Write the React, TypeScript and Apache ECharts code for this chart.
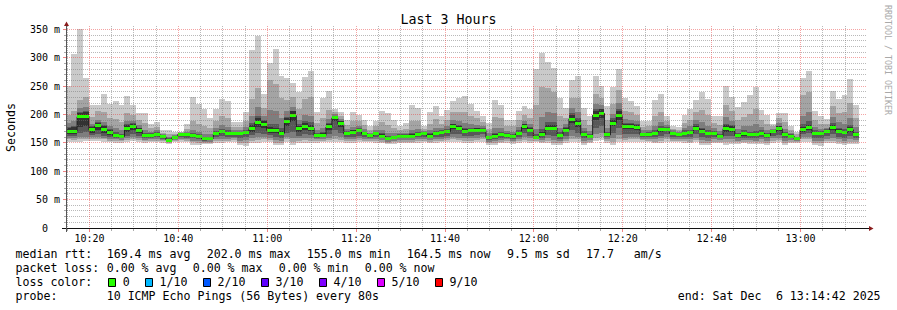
import React, { useEffect, useRef } from 'react';
import * as echarts from 'echarts';

// ---------- time frame (minutes since midnight) ----------
const START_MIN = 614.95; // left edge of the plot
const END_MIN = 794.95; // right edge of the plot (3 hours later)
const STEP_MIN = 80 / 60; // one probe round every 80 s
const STEP_OFFSET_MIN = -0.4;

// ---------- 10 sorted ping RTTs per step (ms) ----------
const rttP1 = [
  152, 151, 152, 153, 154, 154, 152, 151, 150, 150,
  151, 153, 152, 150, 151, 151, 150, 148, 151, 152,
  151, 147, 147, 148, 148, 150, 150, 151, 152, 146,
  145, 150, 150, 152, 151, 146, 146, 152, 147, 150,
  150, 150, 150, 151, 151, 152, 151, 150, 150, 152,
  151, 151, 150, 149, 148, 148, 149, 150, 149, 150,
  151, 149, 150, 151, 151, 152, 151, 150, 150, 151,
  152, 146, 147, 149, 150, 148, 150, 151, 150, 152,
  149, 150, 146, 146, 150, 152, 151, 146, 149, 153,
  155, 150, 147, 152, 151, 152, 152, 152, 151, 149,
  150, 152, 151, 151, 149, 149, 151, 146, 146, 149,
  149, 146, 148, 148, 149, 148, 148, 148, 147, 150,
  151, 147, 149, 150, 152, 152, 146, 145, 150, 150,
  148, 146, 148, 148,
];
const rttP2 = [
  156, 155, 156, 157, 157, 157, 156, 154, 153, 153,
  155, 156, 155, 153, 154, 154, 153, 150, 153, 155,
  154, 151, 150, 150, 150, 153, 154, 154, 155, 150,
  150, 154, 155, 156, 155, 150, 150, 156, 152, 154,
  155, 154, 153, 154, 155, 156, 155, 153, 153, 155,
  154, 154, 153, 152, 150, 151, 152, 152, 152, 153,
  154, 152, 153, 154, 155, 156, 155, 154, 154, 155,
  156, 149, 150, 152, 153, 151, 153, 155, 154, 154,
  152, 154, 150, 149, 153, 157, 156, 150, 152, 158,
  160, 153, 152, 157, 155, 156, 156, 155, 154, 152,
  154, 156, 154, 154, 153, 152, 155, 150, 150, 152,
  152, 151, 152, 151, 152, 151, 151, 152, 150, 154,
  155, 150, 152, 152, 156, 157, 150, 149, 153, 154,
  152, 150, 152, 151,
];
const rttP3 = [
  159, 158, 160, 161, 160, 160, 159, 157, 156, 155,
  158, 160, 158, 155, 156, 157, 155, 152, 155, 157,
  156, 154, 153, 152, 152, 156, 157, 157, 158, 154,
  155, 158, 160, 160, 159, 155, 154, 160, 158, 158,
  159, 158, 156, 157, 159, 162, 160, 156, 157, 158,
  157, 156, 156, 155, 152, 153, 155, 155, 155, 156,
  157, 155, 156, 157, 158, 160, 159, 158, 158, 159,
  160, 152, 153, 155, 156, 154, 157, 160, 158, 156,
  155, 158, 155, 153, 157, 163, 161, 154, 155, 165,
  168, 156, 158, 164, 159, 160, 160, 157, 157, 156,
  158, 160, 157, 157, 156, 156, 159, 155, 154, 156,
  155, 156, 157, 154, 155, 155, 154, 156, 154, 158,
  159, 154, 155, 153, 160, 161, 154, 153, 157, 159,
  156, 154, 157, 155,
];
const rttP4 = [
  163, 162, 168, 170, 164, 165, 163, 161, 159, 158,
  163, 165, 163, 158, 159, 160, 157, 153, 157, 160,
  159, 158, 156, 154, 155, 160, 162, 161, 161, 159,
  160, 164, 168, 166, 164, 161, 159, 168, 170, 163,
  165, 164, 159, 160, 165, 172, 168, 160, 161, 163,
  160, 159, 160, 158, 155, 156, 158, 158, 158, 160,
  161, 158, 160, 161, 162, 166, 165, 163, 163, 164,
  165, 155, 157, 159, 159, 157, 161, 167, 163, 158,
  159, 164, 163, 157, 162, 172, 168, 158, 158, 176,
  180, 160, 168, 176, 165, 166, 166, 160, 160, 160,
  163, 165, 161, 160, 160, 160, 165, 161, 159, 160,
  158, 162, 163, 158, 159, 159, 158, 160, 158, 162,
  164, 158, 158, 155, 165, 167, 159, 158, 162, 166,
  161, 159, 163, 159,
];
const rttP5 = [
  166, 166, 178, 180, 168, 172, 168, 164, 161, 160,
  170, 173, 168, 161, 161, 163, 159, 154, 158, 163,
  162, 161, 159, 156, 157, 164, 167, 165, 165, 164,
  165, 170, 178, 176, 168, 167, 164, 180, 188, 170,
  172, 171, 161, 161, 173, 188, 178, 164, 165, 169,
  164, 161, 164, 160, 157, 158, 160, 160, 160, 163,
  164, 160, 164, 166, 168, 174, 172, 168, 169, 170,
  170, 157, 160, 162, 161, 159, 164, 174, 169, 159,
  163, 172, 172, 161, 169, 185, 178, 162, 159, 190,
  194, 162, 180, 190, 174, 174, 173, 162, 163, 165,
  170, 171, 165, 163, 165, 166, 172, 167, 164, 164,
  160, 170, 170, 161, 163, 162, 162, 165, 161, 168,
  171, 162, 160, 156, 170, 173, 165, 164, 167, 173,
  167, 165, 170, 162,
];
const rttP6 = [
  176, 178, 202, 204, 178, 185, 179, 172, 166, 163,
  182, 184, 176, 166, 166, 168, 163, 157, 162, 167,
  166, 166, 163, 159, 160, 169, 173, 169, 169, 168,
  171, 182, 194, 188, 178, 176, 171, 194, 206, 180,
  185, 182, 166, 167, 183, 198, 188, 170, 172, 175,
  169, 165, 169, 165, 161, 162, 164, 164, 165, 168,
  168, 165, 169, 171, 173, 183, 179, 174, 175, 176,
  175, 162, 166, 168, 166, 164, 170, 183, 176, 162,
  170, 182, 182, 166, 176, 200, 190, 168, 164, 207,
  210, 167, 191, 206, 183, 183, 181, 167, 168, 170,
  177, 177, 169, 167, 170, 171, 180, 174, 169, 169,
  164, 181, 179, 166, 169, 167, 167, 170, 166, 173,
  179, 167, 164, 159, 178, 182, 170, 169, 173, 182,
  174, 171, 178, 167,
];
const rttP7 = [
  178, 180, 204, 206, 180, 186, 181, 174, 169, 166,
  183, 185, 177, 168, 167, 169, 164, 158, 162, 167,
  167, 168, 165, 161, 161, 171, 175, 172, 170, 169,
  173, 185, 198, 190, 184, 183, 176, 196, 207, 183,
  188, 186, 168, 169, 185, 198, 189, 171, 173, 176,
  170, 166, 170, 167, 163, 163, 165, 165, 167, 170,
  169, 167, 171, 172, 175, 184, 181, 177, 177, 177,
  176, 163, 168, 170, 167, 166, 172, 184, 178, 165,
  175, 187, 186, 169, 178, 202, 193, 171, 166, 209,
  210, 170, 193, 209, 185, 185, 183, 168, 169, 173,
  180, 178, 170, 168, 172, 173, 183, 177, 172, 171,
  166, 184, 181, 168, 172, 170, 171, 172, 168, 173,
  180, 169, 165, 160, 183, 188, 172, 171, 174, 185,
  177, 175, 182, 170,
];
const rttP8 = [
  185, 188, 212, 214, 184, 191, 187, 180, 176, 172,
  189, 189, 182, 173, 170, 172, 165, 160, 164, 167,
  170, 173, 170, 166, 165, 176, 182, 178, 173, 172,
  178, 197, 214, 198, 208, 206, 193, 206, 214, 190,
  200, 198, 173, 176, 192, 201, 192, 174, 178, 180,
  174, 168, 173, 173, 168, 167, 167, 168, 173, 175,
  171, 172, 177, 176, 180, 190, 188, 185, 184, 182,
  180, 167, 176, 177, 171, 170, 178, 189, 183, 175,
  195, 205, 202, 177, 183, 211, 204, 177, 171, 218,
  216, 176, 201, 221, 192, 191, 188, 172, 172, 180,
  187, 182, 172, 169, 176, 179, 190, 187, 180, 176,
  171, 195, 189, 175, 179, 180, 183, 178, 173, 175,
  185, 175, 168, 161, 198, 204, 178, 175, 177, 195,
  186, 184, 193, 178,
];
const rttP9 = [
  200, 206, 226, 231, 195, 207, 204, 194, 192, 187,
  202, 199, 190, 185, 176, 178, 168, 165, 166, 169,
  175, 189, 184, 179, 176, 189, 198, 193, 178, 178,
  188, 227, 247, 212, 260, 254, 229, 225, 230, 209,
  228, 231, 185, 193, 208, 205, 197, 181, 189, 189,
  181, 173, 179, 187, 182, 177, 172, 175, 189, 189,
  175, 184, 192, 184, 191, 204, 205, 204, 198, 193,
  187, 174, 196, 193, 180, 179, 190, 200, 194, 216,
  249, 247, 239, 197, 194, 229, 229, 191, 181, 236,
  229, 190, 219, 244, 207, 204, 199, 178, 179, 197,
  205, 188, 175, 173, 185, 190, 204, 208, 199, 185,
  181, 217, 206, 190, 196, 201, 209, 190, 184, 179,
  193, 186, 173, 165, 235, 239, 190, 184, 183, 215,
  203, 204, 220, 193,
];
const rttP10 = [
  250, 306, 350, 265, 216, 216, 237, 219, 224, 216,
  233, 216, 203, 203, 183, 186, 173, 173, 170, 170,
  183, 231, 219, 210, 194, 209, 227, 224, 187, 187,
  205, 314, 338, 237, 290, 316, 268, 265, 255, 239,
  266, 276, 205, 229, 242, 210, 204, 191, 204, 200,
  191, 180, 188, 207, 203, 191, 180, 185, 217, 211,
  180, 204, 215, 197, 208, 223, 229, 233, 219, 207,
  198, 185, 225, 217, 191, 191, 206, 215, 210, 280,
  309, 293, 282, 229, 211, 261, 268, 211, 197, 267,
  250, 215, 248, 280, 229, 224, 215, 189, 189, 226,
  236, 198, 180, 178, 200, 209, 226, 239, 227, 198,
  197, 250, 231, 213, 222, 235, 248, 208, 200, 184,
  203, 203, 180, 170, 265, 276, 206, 197, 192, 242,
  227, 235, 262, 216,
];
const medianRtt = [
  170, 170, 196, 197, 173, 180, 174, 168, 163, 161,
  176, 179, 172, 163, 163, 165, 161, 155, 160, 165,
  164, 163, 161, 157, 158, 166, 170, 167, 167, 166,
  168, 175, 186, 182, 172, 171, 167, 187, 198, 175,
  178, 176, 163, 163, 178, 194, 184, 166, 168, 172,
  166, 163, 166, 162, 158, 159, 162, 161, 162, 165,
  166, 162, 166, 168, 170, 178, 175, 170, 171, 172,
  172, 159, 162, 164, 163, 161, 166, 178, 172, 160,
  165, 176, 176, 163, 172, 192, 184, 165, 161, 199,
  202, 164, 185, 198, 178, 178, 177, 164, 165, 167,
  173, 174, 167, 165, 167, 168, 176, 170, 166, 166,
  161, 175, 174, 163, 166, 164, 164, 167, 163, 170,
  175, 164, 162, 157, 173, 177, 167, 166, 170, 177,
  170, 168, 173, 164.5,
];

// ---------- axes ----------
const Y_MAX = 356;
const yMajorTicks = [0, 50, 100, 150, 200, 250, 300, 350];
const yMajorLabels = ['0\u00a0\u00a0', '50 m', '100 m', '150 m', '200 m', '250 m', '300 m', '350 m'];
const yMinorTicks = [
  10, 20, 30, 40, 60, 70, 80, 90, 110, 120, 130, 140, 160, 170, 180, 190,
  210, 220, 230, 240, 260, 270, 280, 290, 310, 320, 330, 340,
];
const xMajorTicks = [620, 640, 660, 680, 700, 720, 740, 760, 780];
const xMajorLabels = ['10:20', '10:40', '11:00', '11:20', '11:40', '12:00', '12:20', '12:40', '13:00'];
const xMinorTicks = [
  615, 625, 630, 635, 645, 650, 655, 665, 670, 675, 685, 690, 695, 705, 710, 715,
  725, 730, 735, 745, 750, 755, 765, 770, 775, 785, 790,
];

// ---------- texts ----------
const titleText = 'Last 3 Hours';
const yAxisName = 'Seconds';
const watermark = 'RRDTOOL / TOBI OETIKER';
const medianStats = ['median rtt:', '169.4 ms avg', '202.0 ms max', '155.0 ms min', '164.5 ms now', '9.5 ms sd', '17.7', 'am/s'];
const lossStats = ['packet loss:', '0.00 % avg', '0.00 % max', '0.00 % min', '0.00 % now'];
const lossColorTitle = 'loss color:';
const lossLabels = ['0', '1/10', '2/10', '3/10', '4/10', '5/10', '9/10'];
const lossColors = ['#26ff00', '#00b8ff', '#0059ff', '#5e00ff', '#7e00ff', '#dd00ff', '#ff0000'];
const probeText = ['probe:', '10 ICMP Echo Pings (56 Bytes) every 80s'];
const endText = ['end: Sat Dec', '6 13:14:42 2025'];

// ---------- layout / style (not data) ----------
const MONO = '"DejaVu Sans Mono", monospace';
const GRID = { left: 67, right: 30, top: 26, bottom: 82 };
const LEGEND_FONT = 11.6;
const CHAR_W = 7.02;
const line1X = [15.5, 106.7, 206.7, 306.7, 406.7, 507, 586, 633.7];
const line2X = [15.5, 106.7, 192.7, 278.7, 364.7];
const legendY = [254, 268, 282, 296];
const endX = [677.7, 775.9];
const smokeColors = ['#cacaca', '#a4a4a4', '#7e7e7e', '#585858', '#323232'];
const MINOR_GRID = 'rgba(115,115,115,0.5)';
const MAJOR_GRID = 'rgba(230,50,50,0.45)';
const MINOR_TICK = 'rgba(115,115,115,0.6)';
const MAJOR_TICK = 'rgba(230,50,50,0.6)';
const ARROW = '#8a1c1c';

function buildOption() {
  const n = medianRtt.length;
  const pings = [rttP1, rttP2, rttP3, rttP4, rttP5, rttP6, rttP7, rttP8, rttP9, rttP10];
  const smokeData: number[][] = [];
  const greenData: number[][] = [];
  const stepData: number[][] = [];
  for (let k = 0; k < n; k++) {
    const t0 = START_MIN + STEP_OFFSET_MIN + k * STEP_MIN;
    const t1 = t0 + STEP_MIN;
    smokeData.push([t0, t1, ...pings.map((p) => p[k]), medianRtt[k]]);
    greenData.push([t0, t1, medianRtt[k]]);
    stepData.push([t0, medianRtt[k]]);
    if (k === n - 1) stepData.push([t1, medianRtt[k]]);
  }

  const txt = (text: string, x: number, y: number, size: number, extra: any = {}) => ({
    type: 'text',
    x,
    y,
    rotation: extra.rotation || 0,
    silent: true,
    style: {
      text,
      x: 0,
      y: 0,
      fill: extra.fill || '#000',
      font: `${size}px ${MONO}`,
      textAlign: extra.align || 'left',
      textVerticalAlign: 'middle',
    },
  });

  const graphics: any[] = [];
  graphics.push(txt(titleText, 448.5, 19.5, 13.3, { align: 'center' }));
  graphics.push(txt(yAxisName, 11, 127.5, LEGEND_FONT, { align: 'center', rotation: Math.PI / 2 }));
  graphics.push(txt(watermark, 887.5, 60, 8.3, { align: 'center', rotation: -Math.PI / 2, fill: '#a9a9a9' }));
  medianStats.forEach((s, i) => graphics.push(txt(s, line1X[i], legendY[0], LEGEND_FONT)));
  lossStats.forEach((s, i) => graphics.push(txt(s, line2X[i], legendY[1], LEGEND_FONT)));
  graphics.push(txt(lossColorTitle, 15.5, legendY[2], LEGEND_FONT));
  let bx = 108.3;
  lossLabels.forEach((lab, i) => {
    graphics.push({
      type: 'rect',
      silent: true,
      shape: { x: Math.round(bx) + 0.5, y: 278.5, width: 7, height: 8 },
      style: { fill: lossColors[i], stroke: '#000', lineWidth: 1 },
    });
    graphics.push(txt(lab, bx + 15 - 0.6, legendY[2], LEGEND_FONT));
    bx = bx + 15 + lab.length * CHAR_W + 14.9;
  });
  graphics.push(txt(probeText[0], 15.5, legendY[3], LEGEND_FONT));
  graphics.push(txt(probeText[1], 106.7, legendY[3], LEGEND_FONT));
  graphics.push(txt(endText[0], endX[0], legendY[3], LEGEND_FONT));
  graphics.push(txt(endText[1], endX[1], legendY[3], LEGEND_FONT));

  // axis lines and arrows
  const axisBottom = 310 - GRID.bottom;
  const plotRight = 897 - GRID.right;
  graphics.push({ type: 'line', silent: true, z: 50, shape: { x1: 62, y1: axisBottom + 0.5, x2: plotRight + 2, y2: axisBottom + 0.5 }, style: { stroke: '#111', lineWidth: 1 } });
  graphics.push({ type: 'line', silent: true, z: 50, shape: { x1: GRID.left - 0.5, y1: axisBottom + 4, x2: GRID.left - 0.5, y2: GRID.top - 1 }, style: { stroke: '#555', lineWidth: 1 } });
  graphics.push({ type: 'polygon', silent: true, z: 51, shape: { points: [[GRID.left - 3, GRID.top], [GRID.left + 2, GRID.top], [GRID.left - 0.5, GRID.top - 4.5]] }, style: { fill: ARROW } });
  graphics.push({ type: 'polygon', silent: true, z: 51, shape: { points: [[plotRight + 2, axisBottom - 2], [plotRight + 2, axisBottom + 3], [plotRight + 6.5, axisBottom + 0.5]] }, style: { fill: ARROW } });

  const hidden = { show: false };

  // one custom series draws every grid line: [x, y, orientation(0=h,1=v), major(0/1), labelIndex]
  const gridData: number[][] = [];
  yMinorTicks.forEach((v) => gridData.push([START_MIN, v, 0, 0, -1]));
  yMajorTicks.forEach((v, i) => gridData.push([START_MIN, v, 0, 1, i]));
  xMinorTicks.forEach((t) => gridData.push([t, 0, 1, 0, -1]));
  xMajorTicks.forEach((t, i) => gridData.push([t, 0, 1, 1, i]));

  return {
    animation: false,
    backgroundColor: '#ffffff',
    grid: { left: GRID.left, right: GRID.right, top: GRID.top, bottom: GRID.bottom, containLabel: false },
    xAxis: {
      type: 'value',
      min: START_MIN,
      max: END_MIN,
      axisLine: hidden,
      axisTick: hidden,
      axisLabel: hidden,
      splitLine: hidden,
    },
    yAxis: {
      type: 'value',
      min: 0,
      max: Y_MAX,
      axisLine: hidden,
      axisTick: hidden,
      axisLabel: hidden,
      splitLine: hidden,
    },
    graphic: graphics,
    series: [
      {
        name: 'smoke',
        type: 'custom',
        clip: true,
        silent: true,
        encode: { x: [0, 1], y: [2, 11] },
        data: smokeData,
        renderItem: (params: any, api: any) => {
          const t0 = api.value(0);
          const t1 = api.value(1);
          const children: any[] = [];
          for (let i = 0; i < 5; i++) {
            const lo = api.value(2 + i);
            const hi = api.value(11 - i);
            const a = api.coord([t0, hi]);
            const b = api.coord([t1, lo]);
            const x0 = Math.round(a[0]);
            const x1 = Math.round(b[0]);
            const y0 = Math.round(a[1]);
            const y1 = Math.round(b[1]);
            children.push({
              type: 'rect',
              shape: { x: x0, y: y0, width: x1 - x0, height: Math.max(1, y1 - y0) },
              style: { fill: smokeColors[i] },
            });
          }
          return { type: 'group', children };
        },
        z: 1,
      },
      {
        name: 'median line',
        type: 'line',
        step: 'end',
        data: stepData,
        showSymbol: false,
        symbol: 'none',
        silent: true,
        lineStyle: { color: '#202020', width: 1 },
        z: 2,
      },
      {
        name: 'median',
        type: 'custom',
        clip: true,
        silent: true,
        encode: { x: [0, 1], y: 2 },
        data: greenData,
        renderItem: (params: any, api: any) => {
          const a = api.coord([api.value(0), api.value(2)]);
          const b = api.coord([api.value(1), api.value(2)]);
          const x0 = Math.round(a[0]);
          const x1 = Math.round(b[0]);
          const yc = Math.round(a[1] - 1.5);
          return {
            type: 'rect',
            shape: { x: x0, y: yc, width: x1 - x0, height: 3 },
            style: { fill: lossColors[0] },
          };
        },
        z: 3,
      },
      {
        name: 'grid',
        type: 'custom',
        silent: true,
        clip: false,
        encode: { x: 0, y: 1 },
        data: gridData,
        renderItem: (params: any, api: any) => {
          const cs = params.coordSys;
          const vertical = api.value(2) === 1;
          const major = api.value(3) === 1;
          const li = api.value(4);
          const p = api.coord([api.value(0), api.value(1)]);
          const bottom = cs.y + cs.height;
          const stroke = major ? MAJOR_GRID : MINOR_GRID;
          const tick = major ? MAJOR_TICK : MINOR_TICK;
          const dotted = { stroke, lineWidth: 1, lineDash: [1, 1] };
          const children: any[] = [];
          if (vertical) {
            const x = Math.floor(p[0]) + 0.5;
            children.push({ type: 'line', shape: { x1: x, y1: cs.y, x2: x, y2: bottom }, style: dotted });
            children.push({ type: 'line', shape: { x1: x, y1: bottom, x2: x, y2: bottom + (major ? 4 : 3) }, style: { stroke: tick, lineWidth: 1 } });
            if (major && li >= 0) {
              children.push({
                type: 'text',
                x: p[0],
                y: bottom + 10.5,
                style: { text: xMajorLabels[li], fill: '#000', font: `10px ${MONO}`, textAlign: 'center', textVerticalAlign: 'middle' },
              });
            }
          } else {
            const y = Math.floor(p[1]) + 0.5;
            if (api.value(1) > 0) {
              children.push({ type: 'line', shape: { x1: cs.x, y1: y, x2: cs.x + cs.width, y2: y }, style: dotted });
            }
            children.push({ type: 'line', shape: { x1: cs.x - (major ? 4 : 3), y1: y, x2: cs.x, y2: y }, style: { stroke: tick, lineWidth: 1 } });
            if (major && li >= 0) {
              children.push({
                type: 'text',
                x: cs.x - 7,
                y: p[1],
                style: { text: yMajorLabels[li], fill: '#000', font: `10px ${MONO}`, textAlign: 'right', textVerticalAlign: 'middle' },
              });
            }
          }
          return { type: 'group', children };
        },
        z: 4,
      },
    ],
  };
}

export default function App() {
  const ref = useRef<HTMLDivElement>(null);
  useEffect(() => {
    if (!ref.current) return;
    const chart = echarts.init(ref.current, null, { renderer: 'svg' });
    chart.setOption(buildOption() as any);
    return () => {
      chart.dispose();
    };
  }, []);
  return (
    <div
      ref={ref}
      style={{ position: 'absolute', left: 0, top: 0, width: 897, height: 310, background: '#ffffff' }}
    />
  );
}
